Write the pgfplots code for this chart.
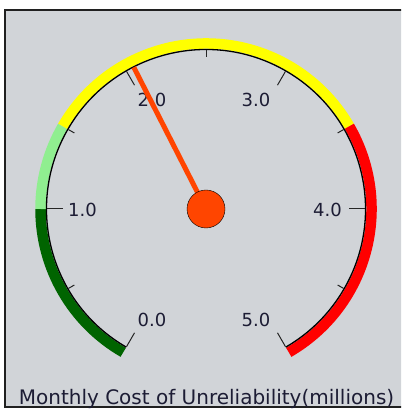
\documentclass[border=0pt]{standalone}
\usepackage{pgfplots}
\pgfplotsset{compat=1.18}
\usepackage{pgfplotstable}
\usepackage{fontspec}
\setmainfont{DejaVu Sans}
\definecolor{bg}{HTML}{D1D4D8}
\definecolor{framec}{HTML}{202020}
\definecolor{needlec}{HTML}{FF4500}
\definecolor{dgreen}{HTML}{006400}
\definecolor{lgreen}{HTML}{90EE90}
\definecolor{yel}{HTML}{FFFF00}
\definecolor{redc}{HTML}{FF0000}
\definecolor{txt}{HTML}{1C1C34}
% needle: value and radius
\pgfplotstableread{
v r
2.05 0
2.05 159
}\needle
\begin{document}
\begin{tikzpicture}
\useasboundingbox (0,0) rectangle (401pt,409pt);
\clip (0,0) rectangle (401pt,409pt);
\fill[white] (0,0) rectangle (401pt,409pt);
\begin{axis}[at={(0,0)}, anchor=south west,
  x=1pt, y=1pt, xmin=-206, xmax=195, ymin=-200, ymax=209,
  hide axis, clip=false]
\draw[fill=bg, draw=framec, line width=1.6pt] (axis cs:-201,-198) rectangle (axis cs:200,199);
% colour bands (values 0-1, 1-1.5, 1.5-3.5, 3.5-5); angle = 240 - 60*v
\draw[line width=10.5pt, dgreen] (axis cs:0,0) ++({240-60*0}:165.5pt) arc[start angle={240-60*0}, end angle={240-60*1}, radius=165.5pt];
\draw[line width=10.5pt, lgreen] (axis cs:0,0) ++({240-60*1}:165.5pt) arc[start angle={240-60*1}, end angle={240-60*1.5}, radius=165.5pt];
\draw[line width=10.5pt, yel] (axis cs:0,0) ++({240-60*1.5}:165.5pt) arc[start angle={240-60*1.5}, end angle={240-60*3.5}, radius=165.5pt];
\draw[line width=10.5pt, redc] (axis cs:0,0) ++({240-60*3.5}:165.5pt) arc[start angle={240-60*3.5}, end angle={240-60*5}, radius=165.5pt];
% scale arc
\draw[black, line width=1.3pt] (axis cs:0,0) ++(240:159.5pt) arc[start angle=240, end angle=-60, radius=159.5pt];
% major ticks
\pgfplotsinvokeforeach{0,1,2,3,4,5}{
  \draw[black!85, line width=1pt] (axis cs:0,0) ++({240-60*#1}:143pt) -- ++({240-60*#1}:16pt);
}
% minor ticks
\pgfplotsinvokeforeach{0.5,1.5,2.5,3.5,4.5}{
  \draw[black!85, line width=1pt] (axis cs:0,0) ++({240-60*#1}:152pt) -- ++({240-60*#1}:7pt);
}
% tick labels
\begin{scope}[every node/.style={font=\fontsize{18}{18}\selectfont, text=txt, inner sep=0pt}]
\node at (axis cs:-54,-111) {0.0};
\node at (axis cs:-123.5,-1) {1.0};
\node at (axis cs:-54,109) {2.0};
\node at (axis cs:50,109) {3.0};
\node at (axis cs:121.5,-1) {4.0};
\node at (axis cs:50,-111) {5.0};
\end{scope}
% needle
\addplot[needlec, line width=5pt, no marks] table[x expr={\thisrow{r}*cos(240-60*\thisrow{v})}, y expr={\thisrow{r}*sin(240-60*\thisrow{v})}] {\needle};
\addplot[only marks, mark=*, mark size=19pt, mark options={fill=needlec, draw=none}] coordinates {(0,0)};
% title
\node[anchor=base, font=\fontsize{20}{20}\selectfont, text=txt, inner sep=0pt] at (axis cs:0.5,-195) {Monthly Cost of Unreliability(millions)};
\end{axis}
\end{tikzpicture}
\end{document}
